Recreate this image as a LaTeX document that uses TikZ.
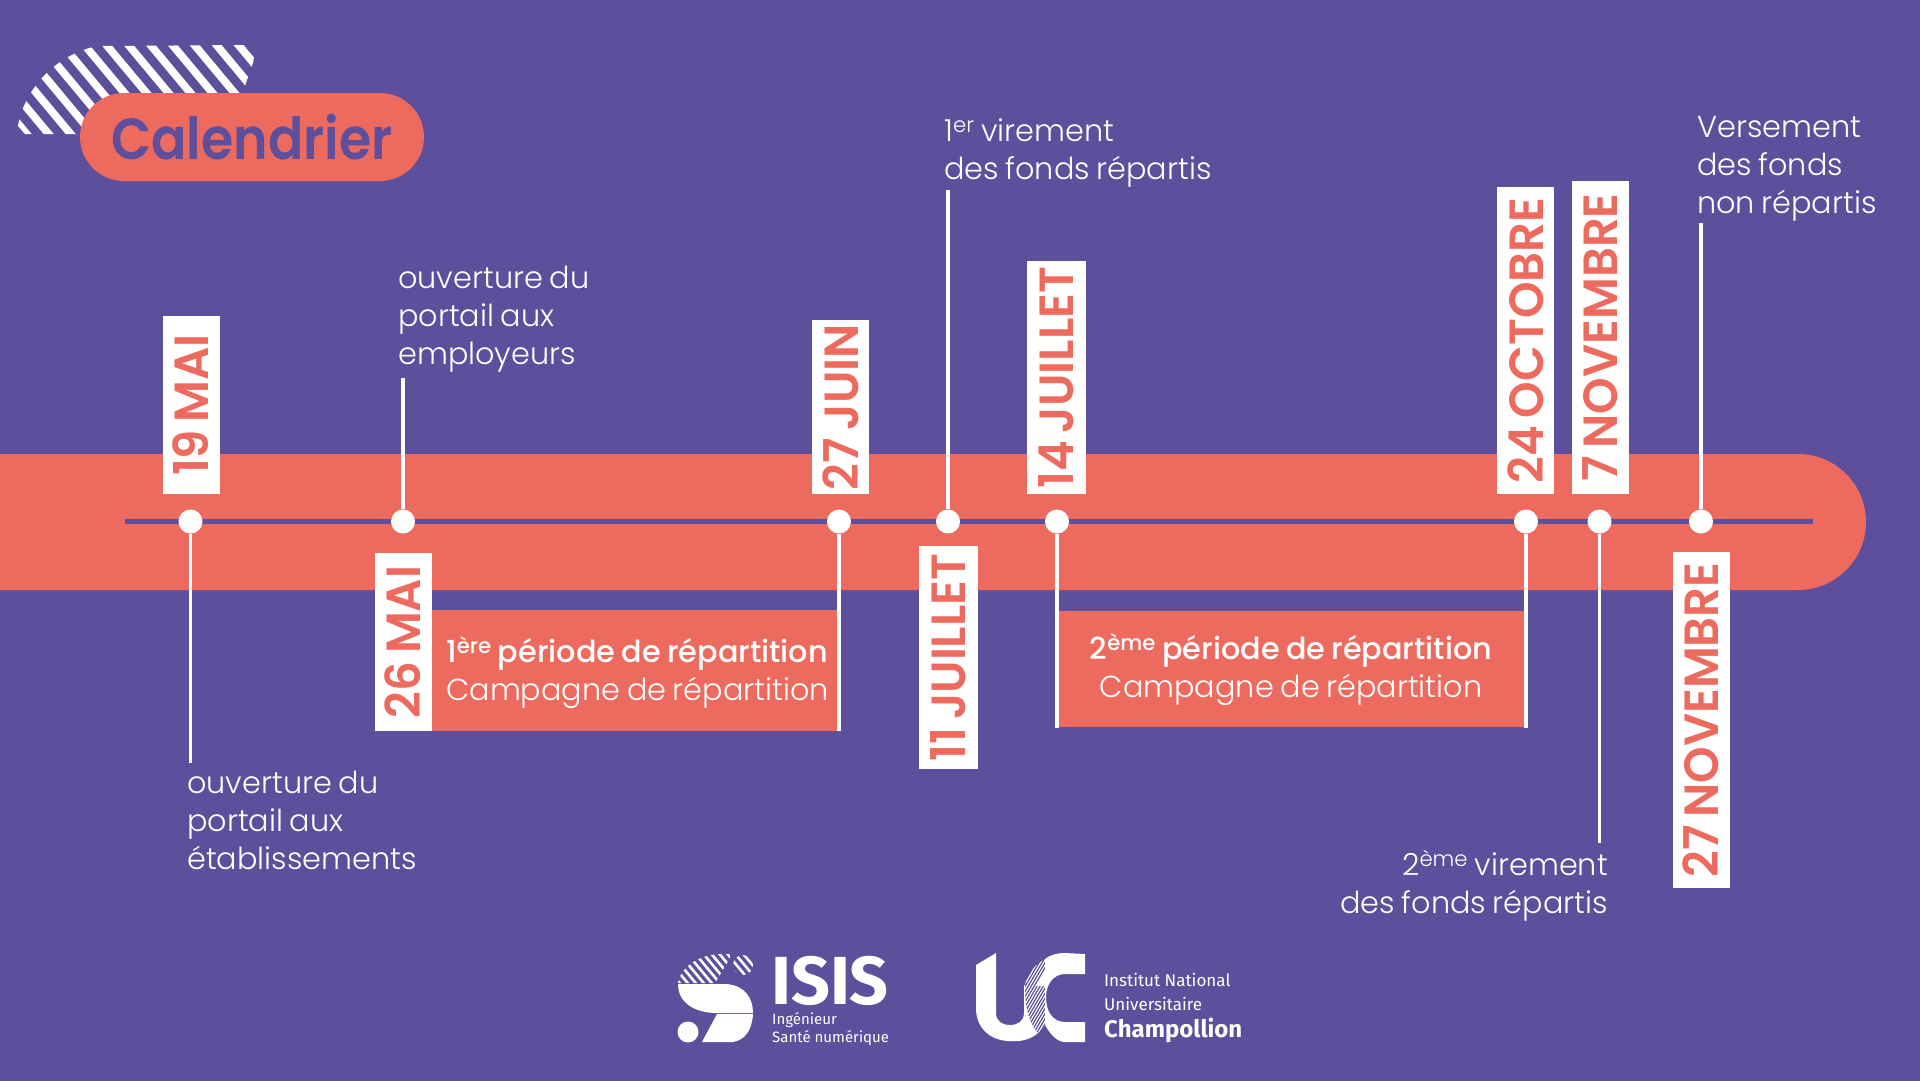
\documentclass[tikz,border=0pt]{standalone}
\usepackage{fontspec}
\setmainfont[WordSpace=0.8]{Poppins Light}
\newfontfamily\medfont[WordSpace=0.8]{Poppins Medium}
\newfontfamily\semifont[WordSpace=0.7,FakeStretch=0.97]{Poppins SemiBold}
\newfontfamily\titrefont[FakeStretch=0.9]{Poppins SemiBold}
\newfontfamily\logofont{Fira Sans}
\definecolor{fondviolet}{HTML}{5D4F9B}
\definecolor{corail}{HTML}{ED6A5E}
\tikzset{
  jalon/.style={circle,fill=white,minimum size=24pt,inner sep=0pt},
  tige/.style={white,line width=3.5pt},
  datetab/.style={fill=white,text=corail,rotate=90,inner sep=0pt,minimum height=57pt,font=\semifont\fontsize{48}{48}\selectfont},
  legende/.style={white,inner sep=0pt,align=left,anchor=north west,font=\fontsize{30.3}{38}\selectfont},
  periode/.style={fill=corail,inner sep=0pt},
  logotxt/.style={white,inner sep=0pt,anchor=base west},
}
\begin{document}
\begin{tikzpicture}[x=1pt,y=-1pt]
  \useasboundingbox (0,0) rectangle (1920,1080);
  \fill[fondviolet] (-10,-10) rectangle (1930,1090);

  % titre
  \begin{scope}
    \clip (18,126) .. controls (22,100) and (45,58) .. (97,46) -- (250,45) -- (255,52) -- (253,63) -- (240,100) -- (80,134) -- (25,134) -- cycle;
    \foreach \x in {-170,-148,...,260}
      \draw[white,line width=7.7pt] (\x,30) -- (\x+100,150);
  \end{scope}
  \node (titre) at (252,137) [fill=corail,rounded corners=44pt,minimum width=344pt,minimum height=88pt,inner sep=0pt,text=fondviolet,font=\titrefont\fontsize{58}{58}\selectfont] {Calendrier};

  % bande
  \fill[corail,rounded corners=68pt] (-100,454) rectangle (1866,590);
  \coordinate (debut) at (125,521.5);
  \coordinate (fin) at (1813,521.5);
  \draw[fondviolet,line width=5pt] (debut) -- (fin);

  % periodes
  \node (per1) at (635,670.5) [periode,minimum width=408pt,minimum height=121pt] {};
  \node (per2) at (1291.5,669) [periode,minimum width=469pt,minimum height=116pt] {};

  % jalons
  \node (j19mai) at (190.5,521.5) [jalon] {};
  \node (j26mai) at (403,521.5) [jalon] {};
  \node (j27juin) at (839,521.5) [jalon] {};
  \node (j11juil) at (948,521.5) [jalon] {};
  \node (j14juil) at (1057,521.5) [jalon] {};
  \node (j24oct) at (1526,521.5) [jalon] {};
  \node (j7nov) at (1599.5,521.5) [jalon] {};
  \node (j27nov) at (1701,521.5) [jalon] {};

  \coordinate (b19mai) at (190.5,763);
  \coordinate (b26mai) at (403,378);
  \coordinate (b27juin) at (839,731);
  \coordinate (b11juil) at (948,190);
  \coordinate (b14juil) at (1057,728);
  \coordinate (b24oct) at (1526,728);
  \coordinate (b7nov) at (1599.5,843);
  \coordinate (b27nov) at (1701,223);

  \draw[tige] (j19mai) -- (b19mai);
  \draw[tige] (j26mai) -- (b26mai);
  \draw[tige] (j27juin) -- (b27juin);
  \draw[tige] (j11juil) -- (b11juil);
  \draw[tige] (j14juil) -- (b14juil);
  \draw[tige] (j24oct) -- (b24oct);
  \draw[tige] (j7nov) -- (b7nov);
  \draw[tige] (j27nov) -- (b27nov);

  % dates
  \node (d19mai) at (191,405) [datetab,minimum width=178pt] {19 MAI};
  \node (d26mai) at (403,642) [datetab,minimum width=178pt] {26 MAI};
  \node (d27juin) at (840.5,407) [datetab,minimum width=174pt] {27 JUIN};
  \node (d11juil) at (948,657.5) [datetab,minimum width=223pt,minimum height=59pt] {11 JUILLET};
  \node (d14juil) at (1056.5,377.5) [datetab,minimum width=233pt,minimum height=59pt] {14 JUILLET};
  \node (d24oct) at (1525.5,340.5) [datetab,minimum width=307pt] {24 OCTOBRE};
  \node (d7nov) at (1600,337.5) [datetab,minimum width=313pt] {7 NOVEMBRE};
  \node (d27nov) at (1701,720) [datetab,minimum width=336pt] {27 NOVEMBRE};

  % legendes
  \node (l19mai) at (187,771) [legende] {ouverture du\\portail aux\\établissements};
  \node (l26mai) at (398,266) [legende] {ouverture du\\portail aux\\employeurs};
  \node (l11juil) at (944,119) [legende] {1\textsuperscript{er} virement\\des fonds répartis};
  \node (l27nov) at (1697,116) [legende] {Versement\\des fonds\\non répartis};
  \node (l7nov) at (1608,850) [legende,anchor=north east,align=right] {2\textsuperscript{ème} virement\\des fonds répartis};
  \node (t1) at (446,636) [legende] {{\medfont 1\textsuperscript{ère} période de répartition}\\Campagne de répartition};
  \node (t2) at (1291,633) [legende,anchor=north,align=center] {{\medfont 2\textsuperscript{ème} période de répartition}\\Campagne de répartition};

  % logo ISIS
  \begin{scope}
    \clip (678,983) .. controls (680,970) and (695,955) .. (720,954) -- (730,954) -- (730,958) -- (715,983) -- cycle;
    \foreach \x in {640,648,...,740}
      \draw[white,line width=2.6pt] (\x,945) -- (\x+40,993);
  \end{scope}
  \begin{scope}
    \clip (743,965) circle (10);
    \foreach \x in {700,708,...,756}
      \draw[white,line width=2.6pt] (\x,950) -- (\x+30,986);
  \end{scope}
  \fill[white] (678,984) -- (727,984) .. controls (745,986) and (753,998) .. (753,1013) -- (717,1013) .. controls (695,1013) and (678,1003) .. cycle;
  \fill[white] (717,1014) -- (753,1014) .. controls (752,1030) and (745,1040) .. (733,1042) -- (702,1042) -- cycle;
  \fill[white] (688,1032) circle (10.5);
  \node (isis) at (771,1004) [logotxt,font=\logofont\bfseries\fontsize{68}{68}\selectfont] {ISIS};
  \node (isis1) at (772,1024) [logotxt,font=\logofont\fontsize{15}{15}\selectfont] {Ingénieur};
  \node (isis2) at (772,1042) [logotxt,font=\logofont\fontsize{15}{15}\selectfont] {Santé numérique};

  % logo UC
  \fill[white] (976,965) -- (996,953) -- (996,1013) .. controls (996,1021) and (1002,1025) .. (1010,1025) .. controls (1018,1025) and (1024,1021) .. (1024,1013) -- (1024,985) -- (1045,985) -- (1045,1025) -- (1038,1033) .. controls (1030,1040) and (1020,1042) .. (1008,1041) .. controls (990,1040) and (976,1028) .. (976,1008) -- cycle;
  \fill[fondviolet] (1045,959) .. controls (1030,968) and (1025,978) .. (1025,988) .. controls (1025,1008) and (1030,1025) .. (1038,1033) -- (1045,1025) -- cycle;
  \begin{scope}
    \clip (1045,959) .. controls (1030,968) and (1025,978) .. (1025,988) .. controls (1025,1008) and (1030,1025) .. (1038,1033) -- (1045,1025) -- cycle;
    \foreach \x in {1000,1003,...,1100}
      \draw[white,line width=1.1pt] (\x,955) -- (\x-50,1040);
  \end{scope}
  \fill[white] (1045,970) -- (1045,986) -- (1036,986) -- cycle;
  \fill[white] (1085,954) -- (1085,974) -- (1065,974) .. controls (1053,974) and (1046,985) .. (1046,997) .. controls (1046,1012) and (1053,1022) .. (1065,1022) -- (1085,1022) -- (1085,1042) -- (1065,1042) .. controls (1057,1042) and (1050,1034) .. (1045,1025) -- (1045,959) .. controls (1050,955) and (1057,953) .. (1065,953) -- cycle;
  \node (uc1) at (1104,986) [logotxt,font=\logofont\fontsize{17}{17}\selectfont] {Institut National};
  \node (uc2) at (1104,1010) [logotxt,font=\logofont\fontsize{17}{17}\selectfont] {Universitaire};
  \node (uc3) at (1104,1037) [logotxt,font=\logofont\bfseries\fontsize{24}{24}\selectfont] {Champollion};
\end{tikzpicture}
\end{document}
